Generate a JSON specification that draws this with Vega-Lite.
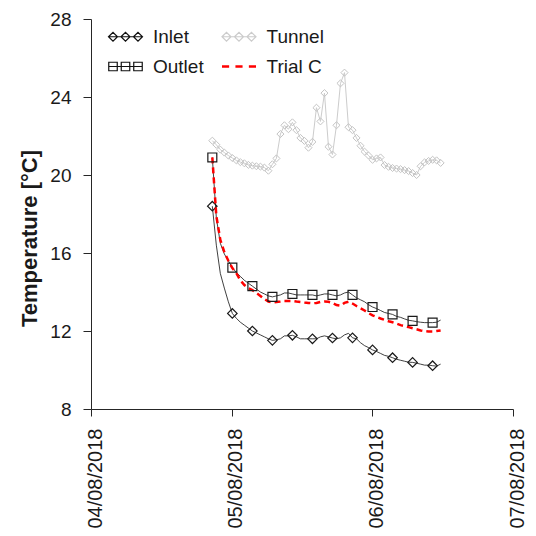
{
  "$schema": "https://vega.github.io/schema/vega-lite/v6.json",
  "width": 422,
  "height": 390,
  "autosize": {"type": "none"},
  "padding": {"left": 91, "top": 19, "right": 23, "bottom": 127},
  "background": "white",
  "config": {
    "view": {"stroke": null},
    "font": "Liberation Sans",
    "axis": {
      "grid": false,
      "domainColor": "#262626",
      "tickColor": "#262626",
      "labelColor": "#1a1a1a",
      "titleColor": "#1a1a1a",
      "labelFont": "Liberation Sans",
      "titleFont": "Liberation Sans",
      "domainWidth": 1,
      "tickWidth": 1
    }
  },
  "datasets": {
    "temps": [
      {"time": "2018-08-04T20:42", "Inlet": 18.4, "Outlet": 20.9, "Tunnel": 21.76, "Trial C": 20.9},
      {"time": "2018-08-04T21:23", "Inlet": 16.4, "Outlet": 17.8, "Tunnel": 21.55, "Trial C": 17.9},
      {"time": "2018-08-04T22:04", "Inlet": 14.95, "Outlet": 16.5, "Tunnel": 21.3, "Trial C": 16.67},
      {"time": "2018-08-04T22:45", "Inlet": 14.2, "Outlet": 15.95, "Tunnel": 21.15, "Trial C": 16.05},
      {"time": "2018-08-04T23:26", "Inlet": 13.5, "Outlet": 15.6, "Tunnel": 21.0, "Trial C": 15.6},
      {"time": "2018-08-05T00:07", "Inlet": 12.9, "Outlet": 15.25, "Tunnel": 20.87, "Trial C": 15.23},
      {"time": "2018-08-05T00:48", "Inlet": 12.65, "Outlet": 15.0, "Tunnel": 20.75, "Trial C": 14.97},
      {"time": "2018-08-05T01:29", "Inlet": 12.45, "Outlet": 14.8, "Tunnel": 20.66, "Trial C": 14.6},
      {"time": "2018-08-05T02:10", "Inlet": 12.3, "Outlet": 14.6, "Tunnel": 20.6, "Trial C": 14.36},
      {"time": "2018-08-05T02:51", "Inlet": 12.15, "Outlet": 14.45, "Tunnel": 20.52, "Trial C": 14.2},
      {"time": "2018-08-05T03:32", "Inlet": 12.0, "Outlet": 14.3, "Tunnel": 20.48, "Trial C": 14.1},
      {"time": "2018-08-05T04:13", "Inlet": 11.9, "Outlet": 14.15, "Tunnel": 20.45, "Trial C": 13.95},
      {"time": "2018-08-05T04:54", "Inlet": 11.8, "Outlet": 14.0, "Tunnel": 20.43, "Trial C": 13.8},
      {"time": "2018-08-05T05:35", "Inlet": 11.7, "Outlet": 13.9, "Tunnel": 20.38, "Trial C": 13.64},
      {"time": "2018-08-05T06:16", "Inlet": 11.6, "Outlet": 13.8, "Tunnel": 20.22, "Trial C": 13.51},
      {"time": "2018-08-05T06:57", "Inlet": 11.52, "Outlet": 13.75, "Tunnel": 20.55, "Trial C": 13.46},
      {"time": "2018-08-05T07:38", "Inlet": 11.55, "Outlet": 13.8, "Tunnel": 20.85, "Trial C": 13.49},
      {"time": "2018-08-05T08:19", "Inlet": 11.6, "Outlet": 13.85, "Tunnel": 22.1, "Trial C": 13.51},
      {"time": "2018-08-05T09:00", "Inlet": 11.75, "Outlet": 13.95, "Tunnel": 22.55, "Trial C": 13.54},
      {"time": "2018-08-05T09:41", "Inlet": 11.75, "Outlet": 13.95, "Tunnel": 22.35, "Trial C": 13.54},
      {"time": "2018-08-05T10:22", "Inlet": 11.78, "Outlet": 13.9, "Tunnel": 22.7, "Trial C": 13.54},
      {"time": "2018-08-05T11:03", "Inlet": 11.7, "Outlet": 13.85, "Tunnel": 22.3, "Trial C": 13.51},
      {"time": "2018-08-05T11:44", "Inlet": 11.6, "Outlet": 13.85, "Tunnel": 21.9, "Trial C": 13.49},
      {"time": "2018-08-05T12:25", "Inlet": 11.6, "Outlet": 13.85, "Tunnel": 21.75, "Trial C": 13.46},
      {"time": "2018-08-05T13:06", "Inlet": 11.6, "Outlet": 13.85, "Tunnel": 21.4, "Trial C": 13.44},
      {"time": "2018-08-05T13:47", "Inlet": 11.6, "Outlet": 13.85, "Tunnel": 21.7, "Trial C": 13.42},
      {"time": "2018-08-05T14:28", "Inlet": 11.6, "Outlet": 13.8, "Tunnel": 23.45, "Trial C": 13.44},
      {"time": "2018-08-05T15:09", "Inlet": 11.7, "Outlet": 13.85, "Tunnel": 22.75, "Trial C": 13.49},
      {"time": "2018-08-05T15:50", "Inlet": 11.75, "Outlet": 13.9, "Tunnel": 24.2, "Trial C": 13.51},
      {"time": "2018-08-05T16:31", "Inlet": 11.7, "Outlet": 13.9, "Tunnel": 21.45, "Trial C": 13.5},
      {"time": "2018-08-05T17:12", "Inlet": 11.64, "Outlet": 13.85, "Tunnel": 21.05, "Trial C": 13.44},
      {"time": "2018-08-05T17:53", "Inlet": 11.6, "Outlet": 13.8, "Tunnel": 22.55, "Trial C": 13.33},
      {"time": "2018-08-05T18:34", "Inlet": 11.65, "Outlet": 13.85, "Tunnel": 24.7, "Trial C": 13.3},
      {"time": "2018-08-05T19:15", "Inlet": 11.8, "Outlet": 13.95, "Tunnel": 25.25, "Trial C": 13.44},
      {"time": "2018-08-05T19:56", "Inlet": 11.88, "Outlet": 14.0, "Tunnel": 22.45, "Trial C": 13.5},
      {"time": "2018-08-05T20:37", "Inlet": 11.65, "Outlet": 13.85, "Tunnel": 22.3, "Trial C": 13.41},
      {"time": "2018-08-05T21:18", "Inlet": 11.6, "Outlet": 13.7, "Tunnel": 21.9, "Trial C": 13.28},
      {"time": "2018-08-05T21:59", "Inlet": 11.4, "Outlet": 13.6, "Tunnel": 21.5, "Trial C": 13.17},
      {"time": "2018-08-05T22:40", "Inlet": 11.25, "Outlet": 13.5, "Tunnel": 21.2, "Trial C": 13.05},
      {"time": "2018-08-05T23:21", "Inlet": 11.15, "Outlet": 13.35, "Tunnel": 21.0, "Trial C": 12.92},
      {"time": "2018-08-06T00:02", "Inlet": 11.03, "Outlet": 13.23, "Tunnel": 20.78, "Trial C": 12.8},
      {"time": "2018-08-06T00:43", "Inlet": 10.95, "Outlet": 13.15, "Tunnel": 20.85, "Trial C": 12.72},
      {"time": "2018-08-06T01:24", "Inlet": 10.85, "Outlet": 13.05, "Tunnel": 20.9, "Trial C": 12.64},
      {"time": "2018-08-06T02:05", "Inlet": 10.75, "Outlet": 12.95, "Tunnel": 20.51, "Trial C": 12.57},
      {"time": "2018-08-06T02:46", "Inlet": 10.7, "Outlet": 12.9, "Tunnel": 20.42, "Trial C": 12.5},
      {"time": "2018-08-06T03:27", "Inlet": 10.63, "Outlet": 12.85, "Tunnel": 20.36, "Trial C": 12.45},
      {"time": "2018-08-06T04:08", "Inlet": 10.55, "Outlet": 12.75, "Tunnel": 20.33, "Trial C": 12.38},
      {"time": "2018-08-06T04:49", "Inlet": 10.5, "Outlet": 12.7, "Tunnel": 20.3, "Trial C": 12.3},
      {"time": "2018-08-06T05:30", "Inlet": 10.45, "Outlet": 12.62, "Tunnel": 20.25, "Trial C": 12.25},
      {"time": "2018-08-06T06:11", "Inlet": 10.4, "Outlet": 12.55, "Tunnel": 20.2, "Trial C": 12.2},
      {"time": "2018-08-06T06:52", "Inlet": 10.39, "Outlet": 12.52, "Tunnel": 20.1, "Trial C": 12.14},
      {"time": "2018-08-06T07:33", "Inlet": 10.35, "Outlet": 12.48, "Tunnel": 20.0, "Trial C": 12.09},
      {"time": "2018-08-06T08:14", "Inlet": 10.3, "Outlet": 12.45, "Tunnel": 20.45, "Trial C": 12.03},
      {"time": "2018-08-06T08:55", "Inlet": 10.25, "Outlet": 12.43, "Tunnel": 20.65, "Trial C": 11.99},
      {"time": "2018-08-06T09:36", "Inlet": 10.25, "Outlet": 12.43, "Tunnel": 20.72, "Trial C": 11.97},
      {"time": "2018-08-06T10:17", "Inlet": 10.22, "Outlet": 12.43, "Tunnel": 20.78, "Trial C": 11.97},
      {"time": "2018-08-06T10:58", "Inlet": 10.2, "Outlet": 12.45, "Tunnel": 20.75, "Trial C": 12.0},
      {"time": "2018-08-06T11:39", "Inlet": 10.3, "Outlet": 12.56, "Tunnel": 20.62, "Trial C": 12.03}
    ]
  },
  "data": {"name": "temps"},
  "transform": [
    {"fold": ["Inlet", "Outlet", "Tunnel", "Trial C"], "as": ["series", "temp"]}
  ],
  "encoding": {
    "x": {
      "field": "time",
      "type": "temporal",
      "scale": {"domain": [{"year": 2018, "month": 8, "date": 4}, {"year": 2018, "month": 8, "date": 7}]},
      "axis": {
        "title": null,
        "values": [
          {"year": 2018, "month": 8, "date": 4},
          {"year": 2018, "month": 8, "date": 5},
          {"year": 2018, "month": 8, "date": 6},
          {"year": 2018, "month": 8, "date": 7}
        ],
        "format": "%d/%m/%Y",
        "labelAngle": 270,
        "labelAlign": "right",
        "labelBaseline": "middle",
        "labelFontSize": 20,
        "labelPadding": 12,
        "labelOffset": 4,
        "tickSize": 7,
        "labelOverlap": false,
        "labelFlush": false,
        "labelBound": false
      }
    },
    "y": {
      "field": "temp",
      "type": "quantitative",
      "scale": {"domain": [8, 28], "nice": false, "zero": false},
      "axis": {
        "title": "Temperature [°C]",
        "values": [8, 12, 16, 20, 24, 28],
        "labelFontSize": 19,
        "labelPadding": 12,
        "tickSize": 8,
        "titleFontSize": 22,
        "titleFontWeight": "bold",
        "titleAngle": 270,
        "titleX": -55,
        "titleY": 219,
        "titleAlign": "center",
        "titleBaseline": "alphabetic"
      }
    }
  },
  "layer": [
    {
      "transform": [{"filter": "datum.series === 'Tunnel'"}],
      "mark": {"type": "line", "strokeWidth": 1},
      "encoding": {
        "color": {
          "datum": "Tunnel",
          "type": "nominal",
          "scale": {
            "domain": ["Inlet", "Outlet", "Tunnel", "Trial C"],
            "range": ["#111111", "#111111", "#cccccc", "#ff0000"]
          },
          "legend": {
            "title": null,
            "orient": "none",
            "legendX": 15,
            "legendY": 8,
            "columns": 2,
            "columnPadding": 12.5,
            "rowPadding": 10,
            "padding": 0,
            "symbolSize": 1156,
            "symbolStrokeWidth": 1.2,
            "symbolOffset": 10,
            "labelFontSize": 19,
            "labelFont": "Liberation Sans",
            "labelColor": "#1a1a1a",
            "labelOffset": 18,
            "encode": {
              "symbols": {
                "update": {
                  "shape": {"signal": "datum.value === 'Outlet' ? 'M-1,0L1,0M-0.985,-0.25L-0.485,-0.25L-0.485,0.25L-0.985,0.25ZM-0.25,-0.25L0.25,-0.25L0.25,0.25L-0.25,0.25ZM0.485,-0.25L0.985,-0.25L0.985,0.25L0.485,0.25Z' : datum.value === 'Trial C' ? 'M-1,0L-0.58,0M-0.21,0L0.21,0M0.58,0L1,0' : 'M-1,0L1,0M-1,0L-0.735,-0.265L-0.47,0L-0.735,0.265ZM-0.265,0L0,-0.265L0.265,0L0,0.265ZM0.47,0L0.735,-0.265L1,0L0.735,0.265Z'"},
                  "fill": {"value": "transparent"},
                  "strokeWidth": {"signal": "datum.value === 'Trial C' ? 2.5 : 1.2"}
                }
              }
            }
          }
        }
      }
    },
    {
      "transform": [{"filter": "datum.series === 'Tunnel'"}],
      "mark": {"type": "point", "shape": "diamond", "filled": false, "size": 50, "color": "#c4c4c4", "strokeWidth": 1, "opacity": 1}
    },
    {
      "transform": [{"filter": "datum.series === 'Inlet'"}],
      "mark": {"type": "line", "strokeWidth": 1, "opacity": 0.8},
      "encoding": {"color": {"datum": "Inlet", "type": "nominal"}}
    },
    {
      "transform": [
        {"filter": "datum.series === 'Inlet'"},
        {"window": [{"op": "row_number", "as": "idx"}], "sort": [{"field": "time"}]},
        {"filter": "(datum.idx - 1) % 5 === 0"}
      ],
      "mark": {"type": "point", "shape": "diamond", "filled": false, "size": 90, "color": "#1a1a1a", "strokeWidth": 1.2, "opacity": 1}
    },
    {
      "transform": [{"filter": "datum.series === 'Outlet'"}],
      "mark": {"type": "line", "strokeWidth": 1, "opacity": 0.8},
      "encoding": {"color": {"datum": "Outlet", "type": "nominal"}}
    },
    {
      "transform": [{"filter": "datum.series === 'Trial C'"}],
      "mark": {"type": "line", "strokeWidth": 2.5, "strokeDash": [6, 4]},
      "encoding": {"color": {"datum": "Trial C", "type": "nominal"}}
    },
    {
      "transform": [
        {"filter": "datum.series === 'Outlet'"},
        {"window": [{"op": "row_number", "as": "idx"}], "sort": [{"field": "time"}]},
        {"filter": "(datum.idx - 1) % 5 === 0"}
      ],
      "mark": {"type": "point", "shape": "square", "filled": false, "size": 80, "color": "#1a1a1a", "strokeWidth": 1.2, "opacity": 1}
    }
  ]
}
